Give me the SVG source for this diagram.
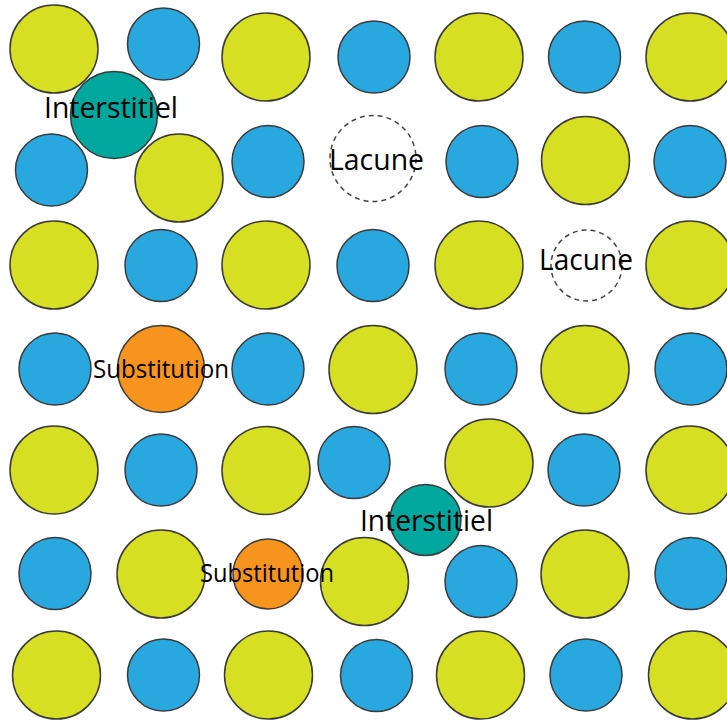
<svg xmlns="http://www.w3.org/2000/svg" width="727" height="720" viewBox="0 0 727 720">
<style>
circle{stroke:#3a3a3a;stroke-width:1.5}
.y{fill:#d6df22}
.b{fill:#29a8e0}
.t{fill:#00a79d}
.o{fill:#f7941e}
.v{fill:none;stroke:#444;stroke-width:1.5;stroke-dasharray:5 4}
text{font-family:"Open Sans","Liberation Sans",sans-serif;fill:#000}
.big{font-size:29px}
.sm{font-size:25px}
</style>
<rect width="727" height="720" fill="#fff"/>
<g id="lattice">
<g id="r1">
<circle class="y" cx="54" cy="49" r="44"/>
<circle class="b" cx="163.5" cy="44" r="36"/>
<circle class="y" cx="266" cy="57" r="44"/>
<circle class="b" cx="374" cy="57" r="36"/>
<circle class="y" cx="479" cy="57" r="44"/>
<circle class="b" cx="584.5" cy="57" r="36"/>
<circle class="y" cx="690" cy="57" r="44"/>
</g>
<g id="r2">
<circle class="b" cx="51.5" cy="170" r="36"/>
<circle class="y" cx="179" cy="178" r="44"/>
<circle class="b" cx="268" cy="161.5" r="36"/>
<circle class="b" cx="482" cy="161.5" r="36"/>
<circle class="y" cx="585.5" cy="160.5" r="44"/>
<circle class="b" cx="690" cy="161.5" r="36"/>
</g>
<g id="r3">
<circle class="y" cx="54" cy="265" r="44"/>
<circle class="b" cx="161" cy="265.5" r="36"/>
<circle class="y" cx="266" cy="265" r="44"/>
<circle class="b" cx="373" cy="265.5" r="36"/>
<circle class="y" cx="479" cy="265" r="44"/>
<circle class="y" cx="690" cy="265" r="44"/>
</g>
<g id="r4">
<circle class="b" cx="55" cy="369" r="36"/>
<circle class="b" cx="268" cy="369" r="36"/>
<circle class="y" cx="373" cy="369.5" r="44"/>
<circle class="b" cx="481" cy="369" r="36"/>
<circle class="y" cx="585" cy="369.5" r="44"/>
<circle class="b" cx="691" cy="369" r="36"/>
</g>
<g id="r5">
<circle class="y" cx="54" cy="470" r="44"/>
<circle class="b" cx="161" cy="470" r="36"/>
<circle class="y" cx="266" cy="470.5" r="44"/>
<circle class="b" cx="354" cy="462.5" r="36"/>
<circle class="y" cx="489" cy="463" r="44"/>
<circle class="b" cx="584" cy="470" r="36"/>
<circle class="y" cx="690" cy="470" r="44"/>
</g>
<g id="r6">
<circle class="b" cx="55" cy="573.5" r="36"/>
<circle class="y" cx="161" cy="574" r="44"/>
<circle class="y" cx="364.5" cy="581.5" r="44"/>
<circle class="b" cx="481" cy="581.5" r="36"/>
<circle class="y" cx="585" cy="574" r="44"/>
<circle class="b" cx="691" cy="573.5" r="36"/>
</g>
<g id="r7">
<circle class="y" cx="56.5" cy="675" r="44"/>
<circle class="b" cx="163.5" cy="675" r="36"/>
<circle class="y" cx="268.5" cy="675" r="44"/>
<circle class="b" cx="376.5" cy="675.5" r="36"/>
<circle class="y" cx="480.5" cy="675" r="44"/>
<circle class="b" cx="586" cy="675" r="36"/>
<circle class="y" cx="692.5" cy="675" r="44"/>
</g>
</g>
<g id="interstitiel1">
<circle class="t" cx="114" cy="115" r="43.5"/>
<text class="big" x="44" y="118" textLength="134" lengthAdjust="spacingAndGlyphs">Interstitiel</text>
</g>
<g id="lacune1">
<circle class="v" cx="373" cy="158.5" r="43"/>
<text class="big" x="329" y="170" textLength="95" lengthAdjust="spacingAndGlyphs">Lacune</text>
</g>
<g id="lacune2">
<circle class="v" cx="586.5" cy="265.5" r="35.5"/>
<text class="big" x="539" y="270" textLength="94" lengthAdjust="spacingAndGlyphs">Lacune</text>
</g>
<g id="substitution1">
<circle class="o" cx="161" cy="369" r="43.5"/>
<text class="sm" x="93" y="378" textLength="136" lengthAdjust="spacingAndGlyphs">Substitution</text>
</g>
<g id="interstitiel2">
<circle class="t" cx="425.5" cy="520" r="35.5"/>
<text class="big" x="360" y="531" textLength="133" lengthAdjust="spacingAndGlyphs">Interstitiel</text>
</g>
<g id="substitution2">
<circle class="o" cx="268" cy="574" r="35"/>
<text class="sm" x="200" y="582" textLength="134" lengthAdjust="spacingAndGlyphs">Substitution</text>
</g>
<g id="connectors"/>
</svg>
